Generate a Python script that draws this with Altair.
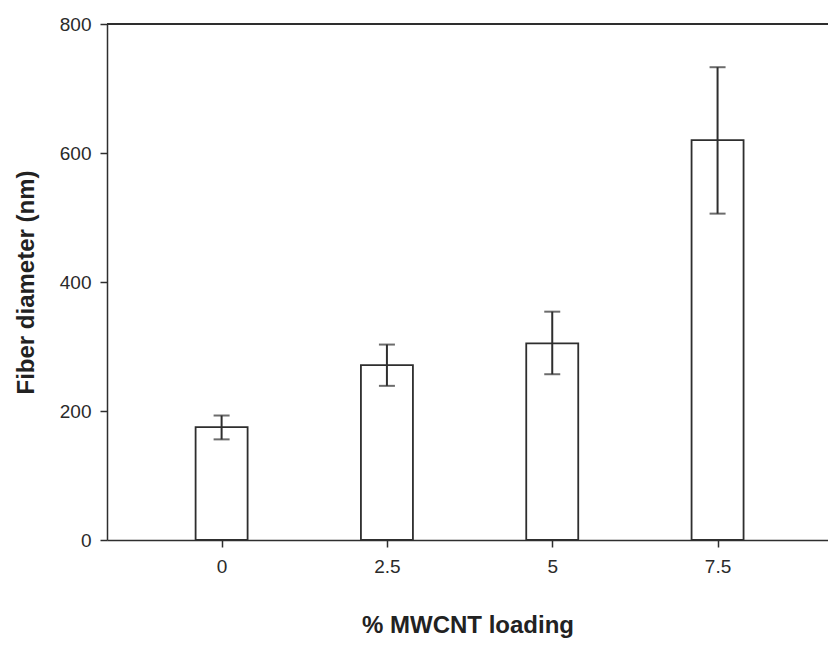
import altair as alt
import pandas as pd

loading = [0, 2.5, 5, 7.5]
diameter = [175, 271, 305, 620]
err_low = [156, 239, 257, 506]
err_high = [193, 303, 354, 733]
x_ticks = [0, 2.5, 5, 7.5]
y_ticks = [0, 200, 400, 600, 800]

df = pd.DataFrame({"loading": loading, "diameter": diameter,
                   "lo": err_low, "hi": err_high})

ink = "#2e2e2e"
font = "Liberation Sans"

xscale = alt.Scale(domain=[-1.733, 9.17], nice=False, zero=False, padding=0)
yscale = alt.Scale(domain=[0, 800], nice=False, padding=0)

xaxis = alt.Axis(values=x_ticks, labelExpr="datum.value + ''", grid=False,
                 title="% MWCNT loading", titleFontSize=24, titleFontWeight="bold",
                 titleFont=font, titleColor="#222222", titlePadding=37,
                 labelFont=font, labelFontSize=19, labelColor="#2a2a2a",
                 labelPadding=10, tickSize=7, tickColor=ink, tickWidth=1.5,
                 domainColor=ink, domainWidth=1.5)
yaxis = alt.Axis(values=y_ticks, grid=False,
                 title="Fiber diameter (nm)", titleFontSize=24, titleFontWeight="bold",
                 titleFont=font, titleColor="#222222", titlePadding=21,
                 labelFont=font, labelFontSize=19, labelColor="#2a2a2a",
                 labelPadding=9, tickSize=7, tickColor=ink, tickWidth=1.5,
                 domainColor=ink, domainWidth=1.5)

bars = alt.Chart(df).mark_bar(size=52, fill="white", stroke=ink, strokeWidth=1.8).encode(
    x=alt.X("loading:Q", scale=xscale, axis=xaxis),
    y=alt.Y("diameter:Q", scale=yscale, axis=yaxis),
)

errs = alt.Chart(df).mark_errorbar(ticks=alt.TickConfig(size=16, thickness=2, color=ink),
                                   color=ink, thickness=2).encode(
    x=alt.X("loading:Q", scale=xscale),
    y=alt.Y("lo:Q", scale=yscale, title="Fiber diameter (nm)"),
    y2="hi:Q",
)

top = alt.Chart(df).mark_rule(color=ink, strokeWidth=1.5).encode(
    y=alt.datum(800, scale=yscale)
)

chart = (bars + errs + top).properties(
    width=721, height=516,
    autosize=alt.AutoSizeParams(type="none"),
    padding={"left": 107, "top": 24, "right": 0, "bottom": 106},
).configure_view(stroke=None)

chart.save("out.html", embed_options={"renderer": "svg", "actions": False})
